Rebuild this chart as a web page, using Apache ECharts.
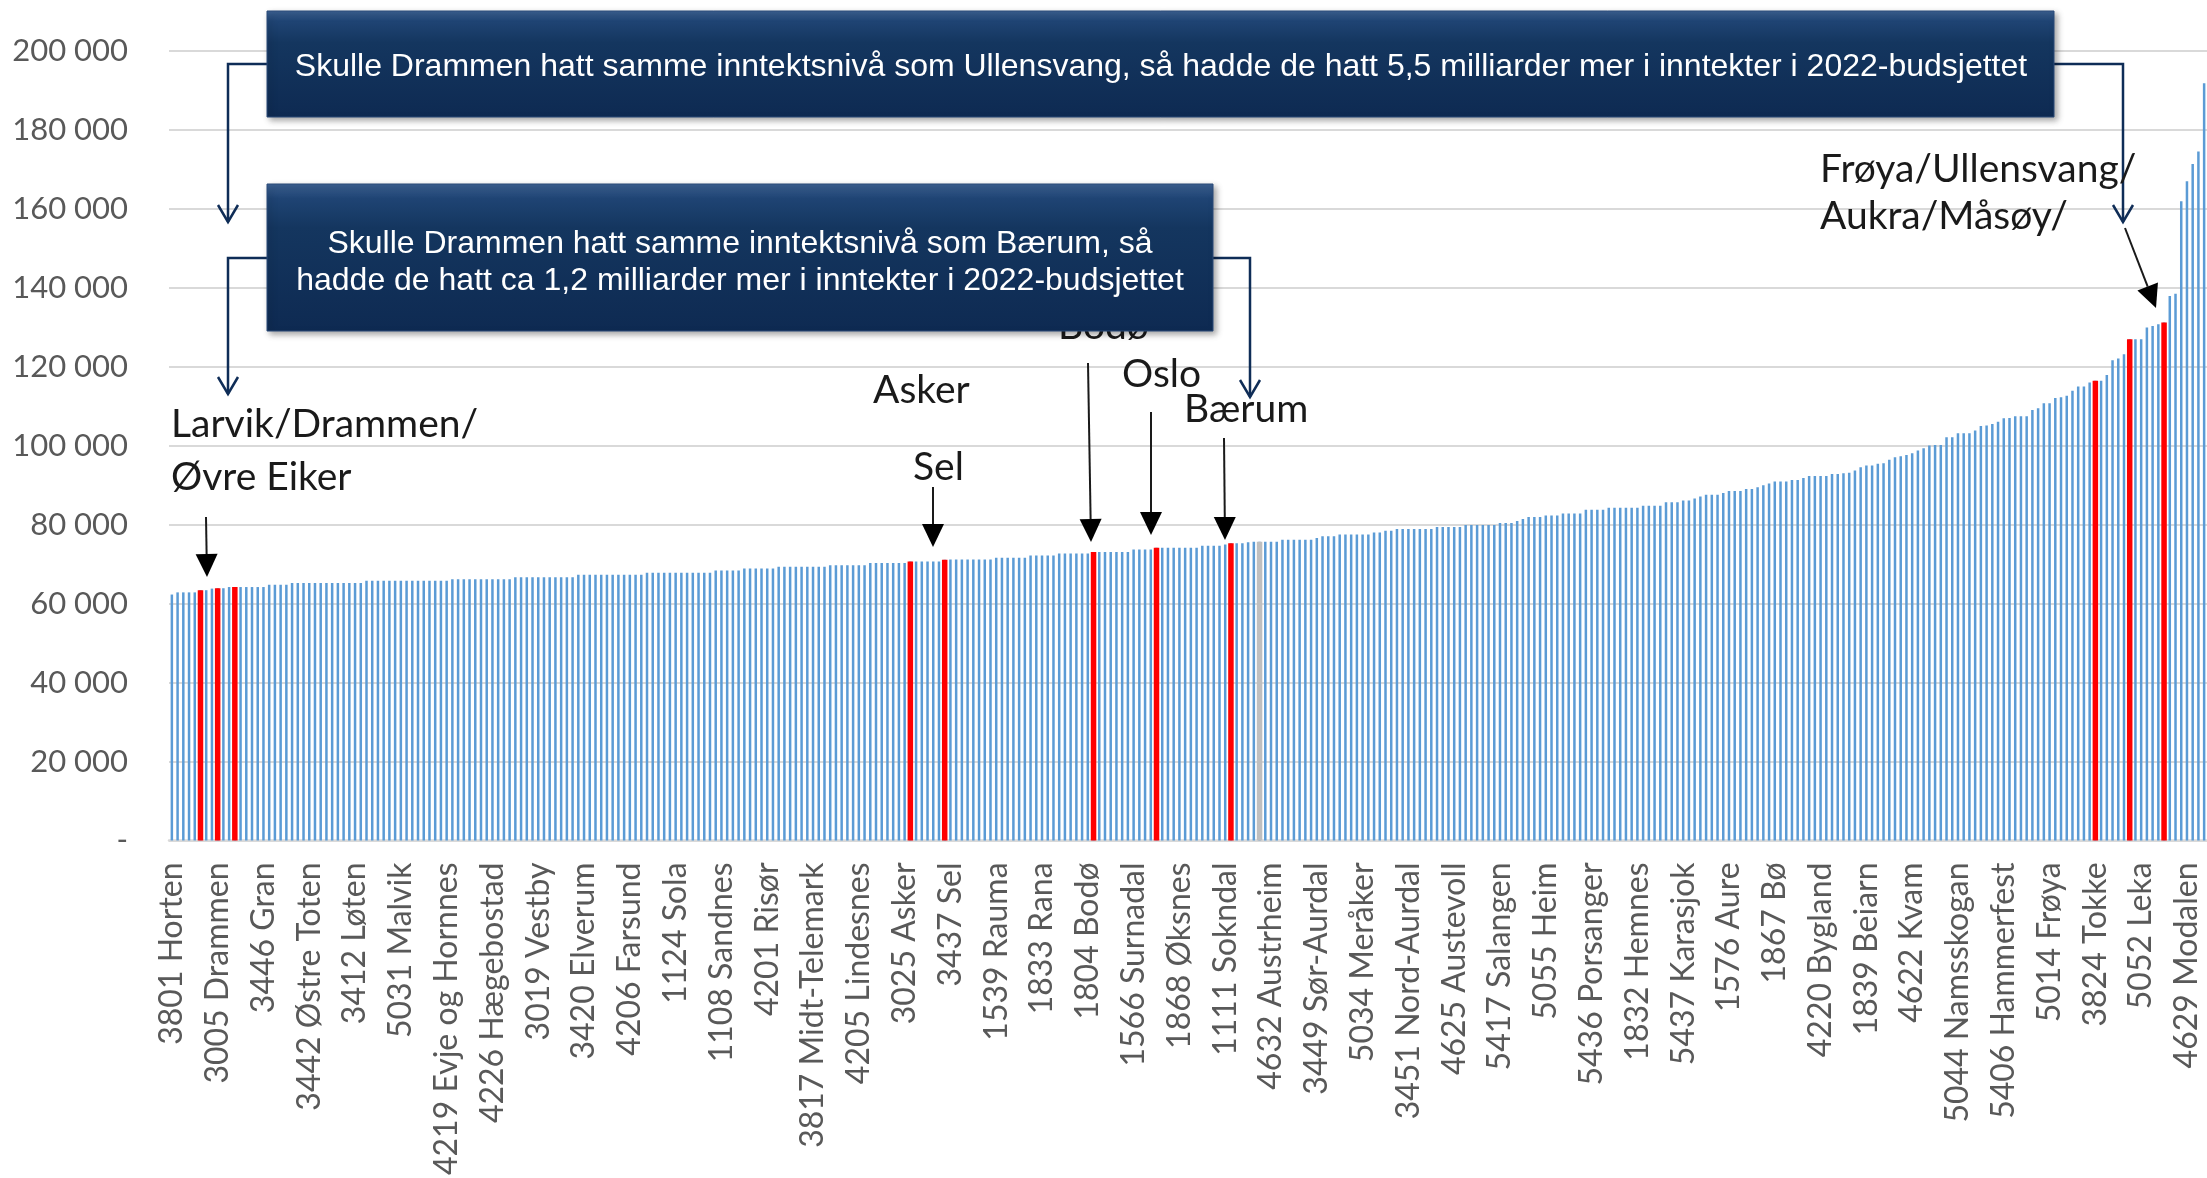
<!DOCTYPE html>
<html><head><meta charset="utf-8">
<script src="https://cdn.jsdelivr.net/npm/echarts/dist/echarts.min.js"></script>
<style>html,body{margin:0;padding:0;background:#fff}#c{width:2207px;height:1178px}</style>
</head><body><div id="c"></div>
<script>
// Tick labels shown on the category axis (every 8th municipality)
const tickLabels = [
  "3801 Horten","3005 Drammen","3446 Gran","3442 Østre Toten","3412 Løten","5031 Malvik",
  "4219 Evje og Hornnes","4226 Hægebostad","3019 Vestby","3420 Elverum","4206 Farsund","1124 Sola",
  "1108 Sandnes","4201 Risør","3817 Midt-Telemark","4205 Lindesnes","3025 Asker","3437 Sel",
  "1539 Rauma","1833 Rana","1804 Bodø","1566 Surnadal","1868 Øksnes","1111 Sokndal",
  "4632 Austrheim","3449 Sør-Aurdal","5034 Meråker","3451 Nord-Aurdal","4625 Austevoll","5417 Salangen",
  "5055 Heim","5436 Porsanger","1832 Hemnes","5437 Karasjok","1576 Aure","1867 Bø",
  "4220 Bygland","1839 Beiarn","4622 Kvam","5044 Namsskogan","5406 Hammerfest","5014 Frøya",
  "3824 Tokke","5052 Leka","4629 Modalen"
];
const labelStep = 8;

// Income per inhabitant (NOK), sorted, one value per municipality (356)
const values = [
  62300,62850,62850,62850,62850,63400,63400,63800,63900,63900,
  64200,64200,64200,64200,64200,64200,64200,64750,64750,64750,
  64750,65250,65250,65250,65250,65250,65250,65250,65250,65250,
  65250,65250,65250,65250,65780,65780,65780,65780,65780,65780,
  65780,65780,65780,65780,65780,65780,65780,65780,65780,66200,
  66200,66200,66200,66200,66200,66200,66200,66200,66200,66200,
  66700,66700,66700,66700,66700,66700,66700,66700,66700,66700,
  66700,67300,67300,67300,67300,67300,67300,67300,67300,67300,
  67300,67300,67300,67840,67840,67840,67840,67840,67840,67840,
  67840,67840,67840,67840,67840,68360,68360,68360,68360,68360,
  68880,68880,68880,68880,68880,68880,69310,69310,69310,69310,
  69310,69310,69310,69310,69310,69740,69740,69740,69740,69740,
  69740,69740,70260,70260,70260,70260,70260,70260,70260,70690,
  70690,70690,70690,70690,70690,71120,71200,71200,71200,71200,
  71200,71200,71200,71200,71640,71640,71640,71640,71640,71640,
  72160,72160,72160,72160,72160,72670,72670,72670,72670,72670,
  72670,73100,73100,73100,73100,73100,73100,73100,73700,73700,
  73700,73700,74140,74140,74140,74140,74140,74140,74140,74140,
  74660,74660,74660,74660,75000,75300,75300,75300,75520,75690,
  75690,75690,75690,75690,76200,76200,76200,76200,76200,76200,
  76640,77070,77070,77070,77500,77500,77500,77500,77500,77500,
  78020,78020,78450,78450,78880,78880,78880,78880,78880,78880,
  78880,79410,79410,79410,79410,79410,79920,79920,79920,79920,
  79920,79920,80420,80420,80420,80920,81430,81930,81930,81930,
  82350,82350,82350,82850,82850,82850,82850,83780,83780,83780,
  83780,84280,84280,84280,84280,84280,84280,84780,84780,84780,
  84780,85700,85700,85700,86120,86120,86630,87130,87550,87550,
  87550,88050,88560,88560,88560,89060,89060,89480,89980,90400,
  90910,90910,90910,91330,91330,91830,92330,92330,92330,92330,
  92840,92840,93000,93140,93720,94570,94990,94990,95410,95580,
  96420,97090,97350,97680,98100,98780,99370,100040,100210,100210,
  102150,102150,103160,103160,103160,103830,105010,105100,105510,106100,
  106940,107020,107450,107450,107450,109050,109470,110730,110730,112080,
  112250,112670,113930,115030,115030,116040,116460,116460,117890,121680,
  122100,123190,126980,126980,126980,129930,130350,130770,131190,137930,
  138520,161930,166980,171360,174560,191820
];

// Highlighted municipalities (positions in the sorted list)
const redIdx = [5, 8, 11, 129, 135, 161, 172, 185, 336, 342, 348];
const grayIdx = [190];

const yMin = 0, yMax = 200000, yStep = 20000;

const categories = values.map((v, i) => (i % labelStep === 0 ? tickLabels[i / labelStep] : ''));
const highlightData = values.map((v, i) =>
  redIdx.includes(i) ? { value: v, itemStyle: { color: '#ff0000' } } :
  grayIdx.includes(i) ? { value: v, itemStyle: { color: '#bfbfbf' } } : '-'
);

const chart = echarts.init(document.getElementById('c'), null, { renderer: 'canvas' });

const NAVY = '#0f2d57';
function connector(points) {
  const t = points[points.length - 1];
  return [
    { type: 'polyline', z: 100, shape: { points }, style: { stroke: NAVY, lineWidth: 2.5, fill: null } },
    { type: 'polyline', z: 100, shape: { points: [[t[0] - 10, t[1] - 17], t, [t[0] + 10, t[1] - 17]] }, style: { stroke: NAVY, lineWidth: 2.5, fill: null } }
  ];
}
function blackArrow(x1, y1, x2, y2) {
  const dx = x2 - x1, dy = y2 - y1, L = Math.hypot(dx, dy), ux = dx / L, uy = dy / L;
  const hl = 23, hw = 11, bx = x2 - ux * hl, by = y2 - uy * hl, px = -uy, py = ux;
  return [
    { type: 'line', z: 100, shape: { x1, y1, x2: bx, y2: by }, style: { stroke: '#1a1a1a', lineWidth: 2 } },
    { type: 'polygon', z: 100, shape: { points: [[x2, y2], [bx + px * hw, by + py * hw], [bx - px * hw, by - py * hw]] }, style: { fill: '#000' } }
  ];
}
function note(text, x, y, z) {
  return { type: 'text', z: z || 100, x, y, style: { text, font: '39px Lato', fill: '#1a1a1a', align: 'left', verticalAlign: 'middle' } };
}
function boxFill() {
  return new echarts.graphic.LinearGradient(0, 0, 0, 1, [
    { offset: 0, color: '#3d6192' }, { offset: 0.1, color: '#1f4474' },
    { offset: 0.3, color: '#14365f' }, { offset: 1, color: '#0e2a52' }
  ]);
}

const graphics = [].concat(
  connector([[267, 64], [228, 64], [228, 222]]),
  connector([[2054, 64], [2123, 64], [2123, 222]]),
  connector([[267, 258], [228, 258], [228, 394]]),
  connector([[1213, 258], [1250, 258], [1250, 397]]),
  [
    { type: 'rect', z: 100, shape: { x: 267, y: 11, width: 1787, height: 106 },
      style: { fill: boxFill(), stroke: '#2a4a78', lineWidth: 1, shadowBlur: 6, shadowOffsetX: 3, shadowOffsetY: 3, shadowColor: 'rgba(0,0,0,0.35)' } },
    { type: 'text', z: 101, x: 1161, y: 67, style: { text: 'Skulle Drammen hatt samme inntektsnivå som Ullensvang, så hadde de hatt 5,5 milliarder mer i inntekter i 2022-budsjettet', font: '32px "Liberation Sans", Arial', fill: '#ffffff', align: 'center', verticalAlign: 'middle' } },
    note('Bodø', 1058, 326, 99),
    { type: 'rect', z: 100, shape: { x: 267, y: 184, width: 946, height: 147 },
      style: { fill: boxFill(), stroke: '#2a4a78', lineWidth: 1, shadowBlur: 6, shadowOffsetX: 3, shadowOffsetY: 3, shadowColor: 'rgba(0,0,0,0.35)' } },
    { type: 'text', z: 101, x: 740, y: 263, style: { text: 'Skulle Drammen hatt samme inntektsnivå som Bærum, så\nhadde de hatt ca 1,2 milliarder mer i inntekter i 2022-budsjettet', font: '32px "Liberation Sans", Arial', lineHeight: 37, fill: '#ffffff', align: 'center', verticalAlign: 'middle' } },
    note('Larvik/Drammen/', 171, 424),
    note('Øvre Eiker', 171, 477),
    note('Asker', 873, 390),
    note('Sel', 913, 467),
    note('Oslo', 1122, 374),
    note('Bærum', 1184, 409),
    note('Frøya/Ullensvang/', 1820, 169),
    note('Aukra/Måsøy/', 1820, 216)
  ],
  blackArrow(206, 517, 207, 577),
  blackArrow(933, 487, 933, 547),
  blackArrow(1088, 363, 1091, 542),
  blackArrow(1151, 412, 1151, 535),
  blackArrow(1224, 438, 1225, 540),
  blackArrow(2125, 228, 2156, 308)
);

chart.setOption({
  animation: false,
  backgroundColor: '#ffffff',
  grid: { left: 169, top: 51, width: 2042, height: 790, containLabel: false },
  xAxis: [
    {
      type: 'category', data: categories,
      axisTick: { show: false },
      axisLine: { lineStyle: { color: '#d9d9d9', width: 2.5 } },
      axisLabel: { interval: labelStep - 1, rotate: 90, margin: 22, fontFamily: 'Lato', fontSize: 32, color: '#595959' }
    },
    { type: 'category', data: categories, show: false }
  ],
  yAxis: {
    type: 'value', min: yMin, max: yMax, interval: yStep,
    axisLine: { show: false }, axisTick: { show: false },
    splitLine: { lineStyle: { color: '#d9d9d9', width: 2 } },
    axisLabel: {
      margin: 41, fontFamily: 'Lato', fontSize: 31, color: '#595959',
      formatter: v => (v === 0 ? '-' : String(v).replace(/\B(?=(\d{3})+(?!\d))/g, ' '))
    }
  },
  series: [
    { type: 'bar', name: 'Inntekt', data: values, barWidth: 2.5, itemStyle: { color: '#5b9bd5' }, z: 2 },
    { type: 'bar', name: 'Markert', xAxisIndex: 1, data: highlightData, barWidth: 5.5, z: 3 }
  ],
  graphic: { elements: graphics }
});
</script>
</body></html>
